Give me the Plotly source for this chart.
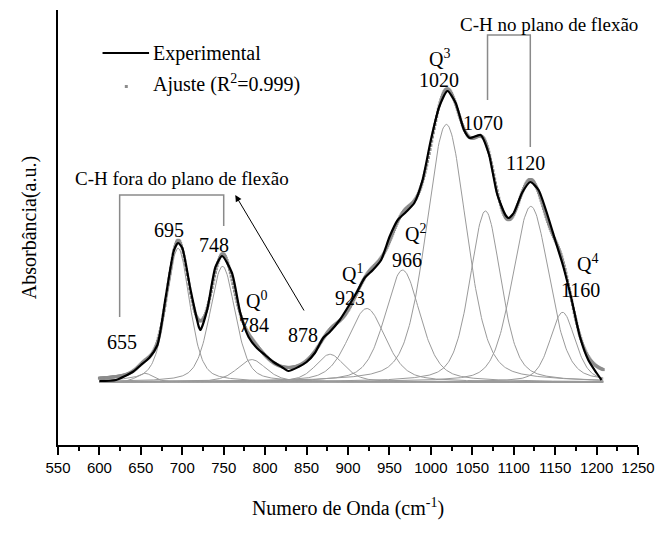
import numpy as np
import plotly.graph_objects as go

# ---------------- data ----------------
# experimental spectrum (absorbance, a.u.)
exp_x = [600, 620, 640, 650, 660, 670, 680, 690, 695, 700, 710, 720, 722, 730, 740, 748,
         760, 770, 780, 790, 800, 810, 820, 828, 840, 850, 860, 870, 878, 890, 900, 910,
         920, 930, 940, 950, 960, 970, 980, 990, 1000, 1010, 1020, 1030, 1040, 1047, 1060,
         1070, 1080, 1090, 1094, 1100, 1110, 1120, 1130, 1140, 1150, 1160, 1170, 1180,
         1190, 1200, 1206]
exp_y = [0.001, 0.002, 0.010, 0.017, 0.024, 0.037, 0.085, 0.132, 0.139, 0.134, 0.092,
         0.055, 0.052, 0.072, 0.115, 0.126, 0.109, 0.069, 0.045, 0.034, 0.027, 0.020,
         0.015, 0.011, 0.015, 0.020, 0.029, 0.044, 0.050, 0.062, 0.075, 0.089, 0.104,
         0.112, 0.122, 0.145, 0.162, 0.170, 0.179, 0.202, 0.242, 0.275, 0.291, 0.279,
         0.252, 0.244, 0.247, 0.228, 0.188, 0.167, 0.164, 0.169, 0.189, 0.200, 0.192,
         0.169, 0.142, 0.115, 0.082, 0.045, 0.022, 0.009, 0.002]

# fitted component bands (pseudo-Voigt): centre, height, FWHM, Lorentzian fraction
band_center = [655.0, 694.9, 748.6, 783.8, 878.3, 922.7, 965.9, 1018.7, 1065.9, 1120.7, 1159.0]
band_height = [0.0087, 0.1338, 0.1157, 0.0224, 0.0277, 0.0735, 0.1119, 0.2576, 0.1710,
               0.1756, 0.0697]
band_fwhm = [23.4, 33.1, 36.1, 41.4, 41.2, 53.4, 50.4, 57.1, 44.3, 52.1, 36.1]
band_eta = [0.50, 0.41, 0.40, 0.48, 0.48, 0.43, 0.42, 0.34, 0.41, 0.28, 0.42]
fit_range = [600, 1208]

peak_labels = ["655", "695", "748", "Q<sup>0</sup>", "784", "878", "Q<sup>1</sup>", "923",
               "Q<sup>2</sup>", "966", "Q<sup>3</sup>", "1020", "1070", "1120",
               "Q<sup>4</sup>", "1160"]
peak_label_x = [627, 684, 738, 790, 786, 846, 906, 903, 981, 971, 1011, 1010, 1063, 1114,
                1189, 1180]
peak_label_y = [0.040, 0.152, 0.137, 0.082, 0.057, 0.047, 0.109, 0.084, 0.149, 0.122,
                0.324, 0.302, 0.259, 0.219, 0.119, 0.092]

x_ticks = list(range(550, 1251, 50))

# ---------------- model ----------------
xf = np.arange(fit_range[0], fit_range[1] + 0.5, 1.0)


def pvoigt(x, c, h, w, eta):
    u = ((x - c) / w) ** 2
    return h * (eta / (1.0 + 4 * u) + (1 - eta) * np.exp(-4 * np.log(2) * u))


comps = [pvoigt(xf, c, h, w, e)
         for c, h, w, e in zip(band_center, band_height, band_fwhm, band_eta)]
fit = np.sum(comps, axis=0)

SERIF = "Liberation Serif, Times New Roman, serif"
SANS = "Liberation Sans, Arial, sans-serif"

# plot-area pixel helpers for the hand-drawn legend (paper coordinates)
L_PX, R_PX, T_PX, B_PX = 58, 644, 10, 445


def px(xp):
    return (xp - L_PX) / (R_PX - L_PX)


def py(yp):
    return (B_PX - yp) / (B_PX - T_PX)


fig = go.Figure()

# baseline
fig.add_trace(go.Scatter(x=fit_range, y=[0, 0], mode="lines",
                         line=dict(color="#999999", width=1.6), showlegend=False,
                         hoverinfo="skip"))
for comp in comps:
    fig.add_trace(go.Scatter(x=xf, y=comp, mode="lines",
                             line=dict(color="#9a9a9a", width=1), showlegend=False,
                             hoverinfo="skip"))
# fit (dots)
fig.add_trace(go.Scatter(x=xf, y=fit, mode="markers",
                         marker=dict(color="#8c8c8c", size=3, symbol="square"),
                         showlegend=False))
# experimental
fig.add_trace(go.Scatter(x=exp_x, y=exp_y, mode="lines",
                         line=dict(color="black", width=2.2, shape="spline", smoothing=0.6),
                         showlegend=False))

# peak labels
for t, xx, yy in zip(peak_labels, peak_label_x, peak_label_y):
    fig.add_annotation(x=xx, y=yy, text=t, showarrow=False, xanchor="center",
                       yanchor="middle", font=dict(family=SERIF, size=20, color="black"))

# legend drawn manually
fig.add_shape(type="line", xref="paper", yref="paper", x0=px(103), x1=px(150),
              y0=py(53), y1=py(53), line=dict(color="black", width=2.2))
fig.add_annotation(xref="paper", yref="paper", x=px(152), y=py(53), text="Experimental",
                   showarrow=False, xanchor="left", yanchor="middle",
                   font=dict(family=SERIF, size=20, color="black"))
fig.add_shape(type="rect", xref="paper", yref="paper", x0=px(125.5), x1=px(128.5),
              y0=py(88), y1=py(85), line=dict(width=0), fillcolor="#8c8c8c")
fig.add_annotation(xref="paper", yref="paper", x=px(152), y=py(84),
                   text="Ajuste (R<sup>2</sup>=0.999)", showarrow=False, xanchor="left",
                   yanchor="middle", font=dict(family=SERIF, size=20, color="black"))

# bracket: C-H fora do plano de flexao
br = "#8a8a8a"
fig.add_shape(type="path", xref="x", yref="y",
              path="M 624.4,0.065 L 624.4,0.187 L 750,0.187 L 750,0.156",
              line=dict(color=br, width=1.5))
fig.add_annotation(x=700, y=0.204, text="C-H fora do plano de flexão", showarrow=False,
                   xanchor="center", yanchor="middle",
                   font=dict(family=SERIF, size=19, color="black"))
fig.add_annotation(x=764, y=0.187, ax=848, ay=0.070, xref="x", yref="y", axref="x",
                   ayref="y", text="", showarrow=True, arrowhead=2, arrowsize=1.3,
                   arrowwidth=1, arrowcolor="black")
# bracket: C-H no plano de flexao
fig.add_shape(type="path", xref="x", yref="y",
              path="M 1068.4,0.282 L 1068.4,0.347 L 1120,0.347 L 1120,0.235",
              line=dict(color=br, width=1.5))
fig.add_annotation(x=1142.5, y=0.358, text="C-H no plano de flexão", showarrow=False,
                   xanchor="center", yanchor="middle",
                   font=dict(family=SERIF, size=19, color="black"))

fig.update_layout(
    width=665, height=536,
    margin=dict(l=L_PX, r=665 - R_PX, t=T_PX, b=536 - B_PX),
    plot_bgcolor="white", paper_bgcolor="white",
    showlegend=False,
    xaxis=dict(range=[550, 1250], tickvals=x_ticks, ticks="outside", ticklen=8, tickwidth=1.5,
               tickcolor="black", showline=True, linecolor="black", linewidth=2,
               showgrid=False, zeroline=False,
               tickfont=dict(family=SANS, size=15, color="black"),
               minor=dict(dtick=25, ticks="outside", ticklen=4, tickwidth=1.5,
                          tickcolor="black", tick0=575),
               title=dict(text="Numero de Onda (cm<sup>-1</sup>)", standoff=26,
                          font=dict(family=SERIF, size=20, color="black"))),
    yaxis=dict(range=[-0.063, 0.372], showticklabels=False, ticks="", showline=True,
               linecolor="black", linewidth=2, showgrid=False, zeroline=False,
               title=dict(text="Absorbância(a.u.)", standoff=14,
                          font=dict(family=SERIF, size=20, color="black"))),
)

fig.write_html("out.html")
